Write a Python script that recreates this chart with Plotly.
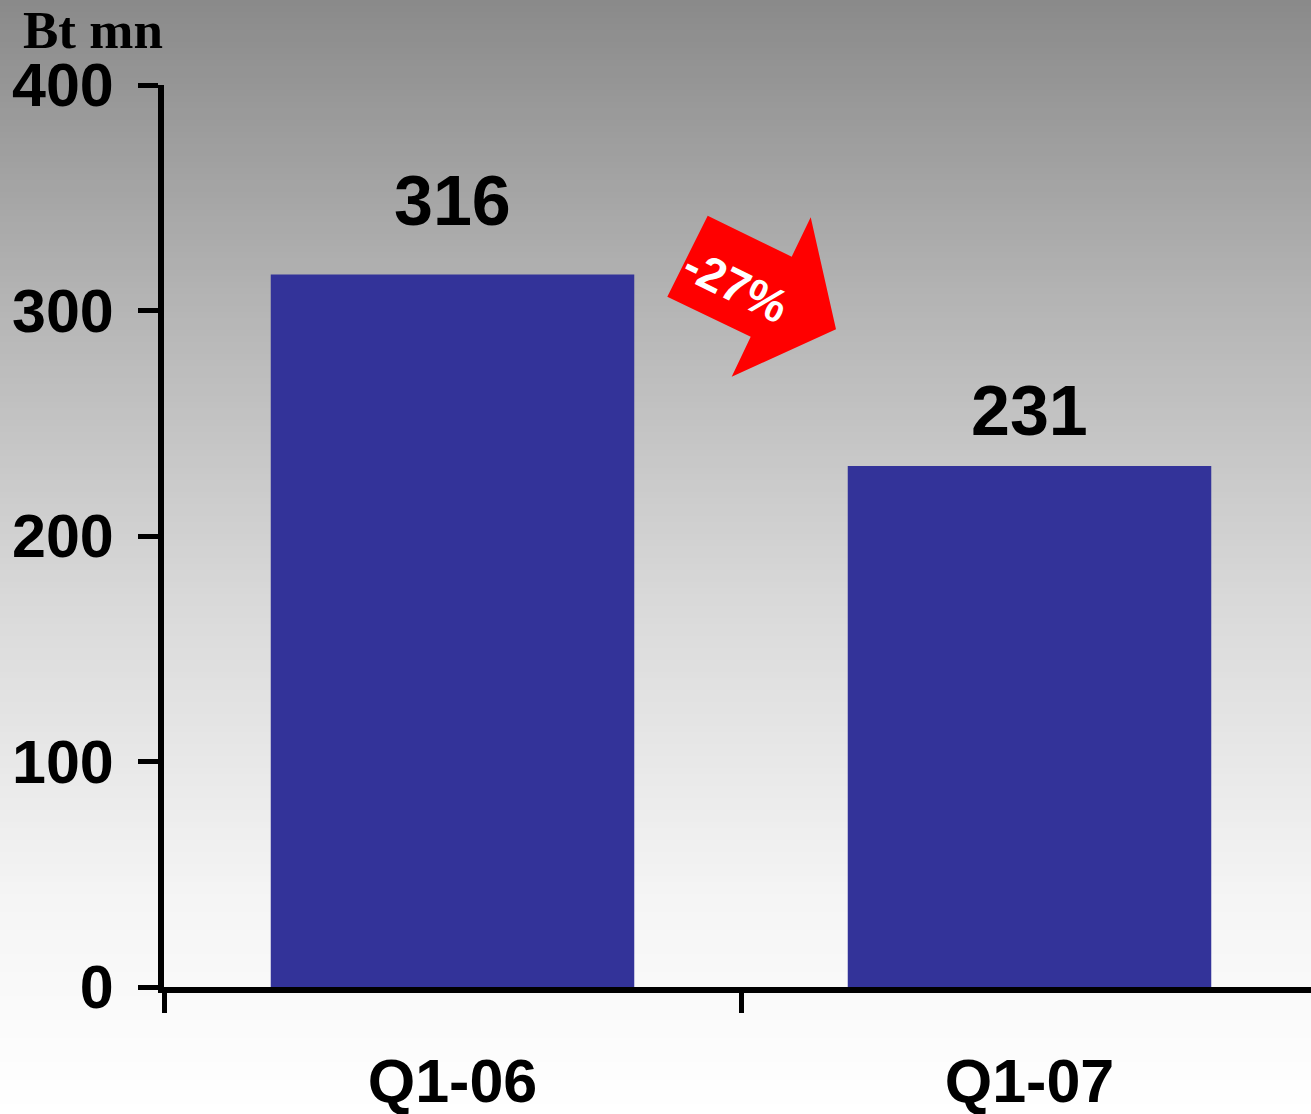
import plotly.graph_objects as go

# ---- data ----
categories = ["Q1-06", "Q1-07"]
values = [316, 231]
value_labels = ["316", "231"]
y_tickvals = [0, 100, 200, 300, 400]
unit_label = "Bt mn"
change_label = "-27%"

# ---- layout constants (pixels) ----
W, H = 1311, 1114
ML, MR, MT, MB = 164, 0, 85, 127
PW, PH = W - ML - MR, H - MT - MB

def px(x):
    return (x - ML) / PW

def py(y):
    return (H - MB - y) / PH

fig = go.Figure()
fig.add_trace(go.Bar(
    x=categories, y=values, width=0.63,
    marker=dict(color="#333399", line=dict(width=0)),
    hoverinfo="skip",
))

shapes = []
# gradient background (decoration)
stops = [(0, 138), (300, 180), (600, 217), (900, 245), (1114, 255)]
def grey_at(y):
    for (y0, c0), (y1, c1) in zip(stops[:-1], stops[1:]):
        if y0 <= y <= y1:
            return c0 + (c1 - c0) * (y - y0) / (y1 - y0)
    return 255
step = 6
for y0 in range(0, H, step):
    g = int(round(grey_at(y0 + step / 2)))
    shapes.append(dict(
        type="rect", xref="paper", yref="paper", layer="below",
        x0=px(-2), x1=px(W + 2), y0=py(y0 + step + 1), y1=py(y0 - (2 if y0 == 0 else 0)),
        fillcolor=f"rgb({g},{g},{g})", line=dict(width=0),
    ))

# red arrow (decoration)
arrow_pts = [(707.7, 215.7), (791.7, 256.7), (810.7, 217.3), (836, 329.3),
             (731.7, 376.7), (750.7, 336.7), (667.3, 296.7)]
path = "M " + " L ".join(f"{px(a):.5f},{py(b):.5f}" for a, b in arrow_pts) + " Z"
shapes.append(dict(type="path", xref="paper", yref="paper", path=path,
                   fillcolor="#ff0000", line=dict(width=0), layer="above"))

annotations = []
label_shift = [32, 14]
for c, v, t, s in zip(categories, values, value_labels, label_shift):
    annotations.append(dict(
        x=c, y=v, xref="x", yref="y", text=t, showarrow=False,
        yanchor="bottom", yshift=s,
        font=dict(family="Arial, Liberation Sans", size=70, color="black", weight="bold"),
    ))
annotations.append(dict(
    x=px(736), y=py(286), xref="paper", yref="paper", text=change_label,
    showarrow=False, textangle=26, xanchor="center", yanchor="middle",
    font=dict(family="Arial, Liberation Sans", size=47, color="white", weight="bold"),
))
annotations.append(dict(
    x=px(22), y=py(0), xref="paper", yref="paper", text=unit_label,
    showarrow=False, xanchor="left", yanchor="top", borderpad=0,
    font=dict(family="Times New Roman, Liberation Serif", size=53, color="black", weight="bold"),
))

fig.update_layout(
    width=W, height=H,
    margin=dict(l=ML, r=MR, t=MT, b=MB, pad=0, autoexpand=False),
    paper_bgcolor="white", plot_bgcolor="rgba(0,0,0,0)",
    showlegend=False,
    shapes=shapes, annotations=annotations,
    xaxis=dict(
        type="category", range=[-0.5, -0.5 + PW / 577.0], automargin=False,
        showline=True, linecolor="black", linewidth=6,
        ticks="outside", tickson="boundaries", ticklen=20, tickwidth=5, tickcolor="black",
        showgrid=False, zeroline=False,
        tickfont=dict(family="Arial, Liberation Sans", size=61, color="black", weight="bold"),
        ticklabelstandoff=36,
    ),
    yaxis=dict(
        range=[0, 400], tickvals=y_tickvals, automargin=False,
        showline=True, linecolor="black", linewidth=6,
        ticks="outside", ticklen=20, tickwidth=5, tickcolor="black",
        showgrid=False, zeroline=False,
        tickfont=dict(family="Arial, Liberation Sans", size=61, color="black", weight="bold"),
        ticklabelstandoff=12,
    ),
)

fig.write_html(
    "out.html",
    config={"displayModeBar": False},
    post_script="document.body.style.margin='0px';document.body.style.overflow='hidden';",
)
